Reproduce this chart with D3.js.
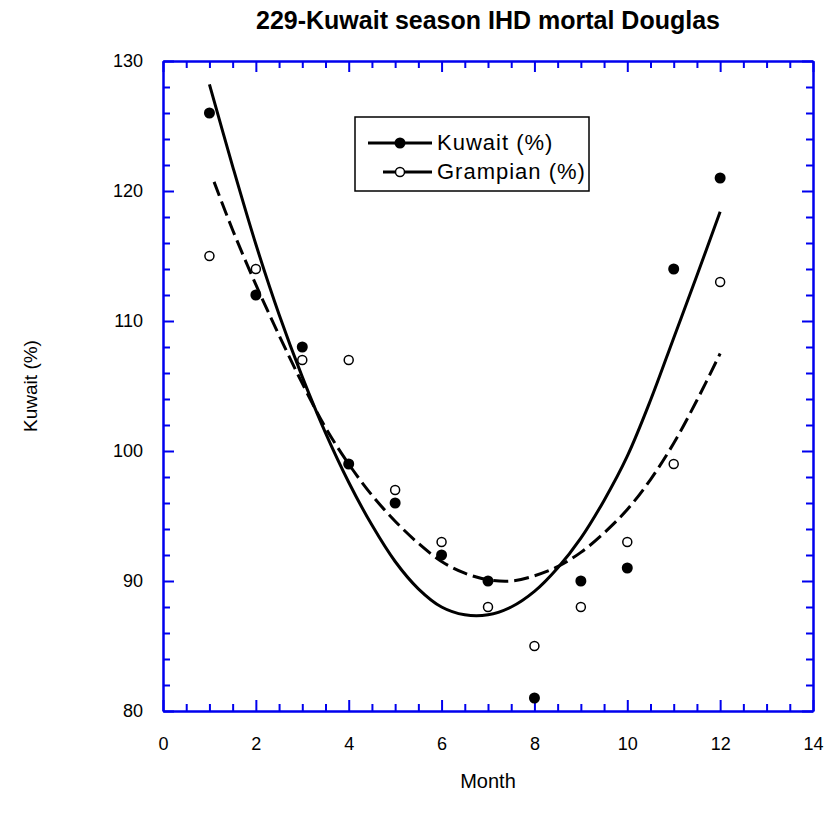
<html lang="en">
<head>
<meta charset="utf-8">
<script src="https://cdn.jsdelivr.net/npm/d3@7"></script>
<style>
  body { margin: 0; background: #fff; }
  text { font-family: Arial, "Liberation Sans", sans-serif; fill: #000; }
  .frame path, .frame line { stroke: #0000ee; stroke-width: 2; }
  .frame text { font-size: 18px; }
  .fit { fill: none; stroke: #000; stroke-width: 3; }
</style>
</head>
<body>
<div id="chart"></div>
<script>
// month numbers and observed values
var months = [1, 2, 3, 4, 5, 6, 7, 8, 9, 10, 11, 12];
var kuwait = [126, 112, 108, 99, 96, 92, 90, 81, 90, 91, 114, 121];
var grampian = [115, 114, 107, 107, 97, 93, 88, 85, 88, 93, 99, 113];

// fitted curves
var kuwaitFitX = [1, 1.5, 2, 2.5, 3, 3.5, 4, 4.5, 5, 5.5, 6, 6.5, 7, 7.5, 8, 8.5, 9, 9.5, 10, 10.5, 11, 11.5, 12];
var kuwaitFitY = [128.2, 121.9, 115.9, 110.5, 105.7, 101.4, 97.6, 94.3, 91.5, 89.4, 88.0, 87.4, 87.4, 88.0, 89.2, 91.0, 93.3, 96.2, 99.6, 103.9, 108.7, 113.5, 118.4];
var grampianFitX = [1.1, 1.5, 2, 2.5, 3, 3.5, 4, 4.5, 5, 5.5, 6, 6.5, 7, 7.5, 8, 8.5, 9, 9.5, 10, 10.5, 11, 11.5, 12];
var grampianFitY = [120.7, 117.0, 112.8, 108.9, 105.2, 101.8, 99.0, 96.6, 94.6, 92.9, 91.5, 90.6, 90.1, 90.0, 90.4, 91.1, 92.2, 93.7, 95.5, 97.8, 100.6, 103.9, 107.5];

var xTicks = [0, 2, 4, 6, 8, 10, 12, 14];
var yTicks = [80, 90, 100, 110, 120, 130];

var width = 827, height = 822;
var margin = {top: 61, right: 14, bottom: 111, left: 163};

var svg = d3.select("#chart").append("svg")
    .attr("width", width)
    .attr("height", height);

var x = d3.scaleLinear().domain([0, 14]).range([margin.left, width - margin.right]);
var y = d3.scaleLinear().domain([80, 130]).range([height - margin.bottom, margin.top]);

var xMinor = d3.range(0, 14.01, 0.5).filter(function(d) { return d % 2 != 0; });
var yMinor = d3.range(80, 130.01, 2).filter(function(d) { return d % 10 != 0; });

var plotBottom = height - margin.bottom, plotTop = margin.top;
var plotLeft = margin.left, plotRight = width - margin.right;

// axes on all four sides, ticks inward
svg.append("g").attr("class", "frame")
  .attr("transform", "translate(0," + plotBottom + ")")
  .call(d3.axisBottom(x).tickValues(xTicks).tickSize(-11).tickSizeOuter(0).tickPadding(26).tickFormat(d3.format("d")));
svg.append("g").attr("class", "frame")
  .attr("transform", "translate(0," + plotBottom + ")")
  .call(d3.axisBottom(x).tickValues(xMinor).tickSize(-7).tickSizeOuter(0).tickFormat(""));
svg.append("g").attr("class", "frame")
  .attr("transform", "translate(0," + plotTop + ")")
  .call(d3.axisTop(x).tickValues(xTicks).tickSize(-11).tickSizeOuter(0).tickFormat(""));
svg.append("g").attr("class", "frame")
  .attr("transform", "translate(0," + plotTop + ")")
  .call(d3.axisTop(x).tickValues(xMinor).tickSize(-7).tickSizeOuter(0).tickFormat(""));

svg.append("g").attr("class", "frame")
  .attr("transform", "translate(" + plotLeft + ",0)")
  .call(d3.axisLeft(y).tickValues(yTicks).tickSize(-11).tickSizeOuter(0).tickPadding(20).tickFormat(d3.format("d")));
svg.append("g").attr("class", "frame")
  .attr("transform", "translate(" + plotLeft + ",0)")
  .call(d3.axisLeft(y).tickValues(yMinor).tickSize(-7).tickSizeOuter(0).tickFormat(""));
svg.append("g").attr("class", "frame")
  .attr("transform", "translate(" + plotRight + ",0)")
  .call(d3.axisRight(y).tickValues(yTicks).tickSize(-11).tickSizeOuter(0).tickFormat(""));
svg.append("g").attr("class", "frame")
  .attr("transform", "translate(" + plotRight + ",0)")
  .call(d3.axisRight(y).tickValues(yMinor).tickSize(-7).tickSizeOuter(0).tickFormat(""));

svg.selectAll(".frame text").attr("fill", "#000");

// fitted lines
var line = d3.line()
  .x(function(d) { return x(d[0]); })
  .y(function(d) { return y(d[1]); })
  .curve(d3.curveCatmullRom);

svg.append("path")
  .attr("class", "fit")
  .attr("d", line(d3.zip(kuwaitFitX, kuwaitFitY)));

svg.append("path")
  .attr("class", "fit")
  .attr("stroke-dasharray", "15,6")
  .attr("d", line(d3.zip(grampianFitX, grampianFitY)));

// points
svg.append("g").selectAll("circle")
  .data(d3.zip(months, grampian))
  .enter().append("circle")
  .attr("cx", function(d) { return x(d[0]); })
  .attr("cy", function(d) { return y(d[1]); })
  .attr("r", 4.5)
  .attr("fill", "#fff")
  .attr("stroke", "#000")
  .attr("stroke-width", 1.5);

svg.append("g").selectAll("circle")
  .data(d3.zip(months, kuwait))
  .enter().append("circle")
  .attr("cx", function(d) { return x(d[0]); })
  .attr("cy", function(d) { return y(d[1]); })
  .attr("r", 5.5)
  .attr("fill", "#000");

// legend
var lg = svg.append("g");
lg.append("rect")
  .attr("x", 355).attr("y", 117).attr("width", 234).attr("height", 74)
  .attr("fill", "#fff").attr("stroke", "#000").attr("stroke-width", 1.5);
lg.append("line").attr("x1", 368).attr("x2", 432).attr("y1", 143).attr("y2", 143)
  .attr("stroke", "#000").attr("stroke-width", 3);
lg.append("circle").attr("cx", 400).attr("cy", 143).attr("r", 5.5).attr("fill", "#000");
lg.append("text").attr("x", 437).attr("y", 150).style("font-size", "22px").style("letter-spacing", "1px").text("Kuwait (%)");
lg.append("line").attr("x1", 383).attr("x2", 432).attr("y1", 172).attr("y2", 172)
  .attr("stroke", "#000").attr("stroke-width", 3);
lg.append("circle").attr("cx", 400).attr("cy", 172).attr("r", 4.5)
  .attr("fill", "#fff").attr("stroke", "#000").attr("stroke-width", 1.5);
lg.append("text").attr("x", 437).attr("y", 179).style("font-size", "22px").style("letter-spacing", "1px").text("Grampian (%)");

// titles
svg.append("text")
  .attr("x", (plotLeft + plotRight) / 2).attr("y", 29)
  .style("text-anchor", "middle").style("font-size", "25px").style("font-weight", "bold")
  .text("229-Kuwait season IHD mortal Douglas");

svg.append("text")
  .attr("x", (plotLeft + plotRight) / 2).attr("y", 788)
  .style("text-anchor", "middle").style("font-size", "20px")
  .text("Month");

svg.append("text")
  .attr("transform", "translate(37," + ((plotTop + plotBottom) / 2) + ") rotate(-90)")
  .style("text-anchor", "middle").style("font-size", "19px")
  .text("Kuwait (%)");
</script>
</body>
</html>
